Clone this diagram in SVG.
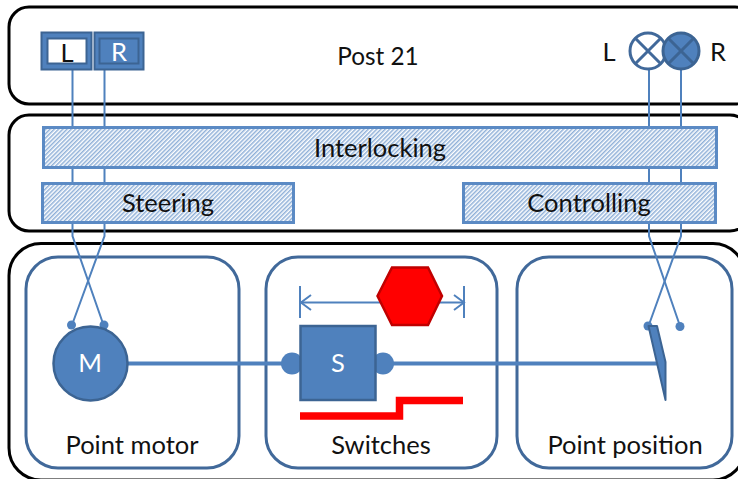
<svg xmlns="http://www.w3.org/2000/svg" width="738" height="479" viewBox="0 0 738 479">
<defs>
<pattern id="hatch" width="3" height="3" patternUnits="userSpaceOnUse" patternTransform="rotate(-45)">
<rect width="3" height="3" fill="#fff"/><rect width="3" height="1.500" fill="#8fb0d8"/>
</pattern>
</defs>
<style>
text{font-family:"Lato","Open Sans",sans-serif;font-size:25.500px;text-anchor:middle;fill:#111}
.w{fill:#fff}
.layer{fill:#fff;stroke:#000;stroke-width:3}
.box{fill:#fff;stroke:#41699a;stroke-width:3}
.hatch{fill:url(#hatch);stroke:#5b8ac4;stroke-width:3}
.wire{fill:none;stroke:#4f81bd;stroke-width:2}
.thick{fill:none;stroke:#4f81bd;stroke-width:4}
.solid{fill:#4f81bd;stroke:#3c6493;stroke-width:2.500}
.dot{fill:#4f81bd}
#title text{font-size:24.300px}
</style>
<g id="layer-post"><rect class="layer" x="9" y="7" width="746" height="97" rx="20"/></g>
<g id="layer-logic"><rect class="layer" x="9" y="115" width="741" height="116" rx="20"/></g>
<g id="layer-field"><rect class="layer" x="9" y="243.500" width="736" height="236.500" rx="32"/></g>
<g id="point-motor"><rect class="box" x="26" y="257" width="213" height="211" rx="32"/></g>
<g id="switches-box"><rect class="box" x="266" y="257" width="231" height="211" rx="32"/></g>
<g id="point-position-box"><rect class="box" x="517" y="257" width="215" height="211" rx="32"/></g>
<g id="connectors">
<path class="wire" d="M72.500 70V236L103.500 325"/>
<path class="wire" d="M104.500 70V236L72 325"/>
<path class="wire" d="M649 69V236L680 326"/>
<path class="wire" d="M681 69V236L648.500 326"/>
<path class="thick" d="M128 363.500H657"/>
<path class="wire" d="M300 302.500H464"/>
<path class="wire" d="M311 295L301 302.500L311 310M454 295L464 302.500L454 310"/>
<path class="wire" d="M300 286V318M464 286V318"/>
<circle class="dot" cx="71.500" cy="325" r="4.500"/>
<circle class="dot" cx="104" cy="325" r="4.500"/>
<circle class="dot" cx="648" cy="326" r="4.500"/>
<circle class="dot" cx="680" cy="326.500" r="4.500"/>
</g>
<g id="button-l"><rect x="41.500" y="32.500" width="50" height="37" fill="#4f81bd" stroke="#3c6493" stroke-width="2"/><rect x="47.500" y="38.500" width="39" height="25" fill="#fff" stroke="#3c6493" stroke-width="2"/><text x="67" y="62">L</text></g>
<g id="button-r"><rect x="94.500" y="32.500" width="49" height="37" fill="#4f81bd" stroke="#3c6493" stroke-width="2"/><rect x="99.500" y="38.500" width="39" height="25" fill="#4f81bd" stroke="#3c6493" stroke-width="2"/><text class="w" x="119" y="61">R</text></g>
<g id="title"><text x="378" y="65">Post 21</text></g>
<g id="lamp-l"><circle cx="648" cy="51" r="18" fill="#fff" stroke="#41699a" stroke-width="3"/><path d="M635.300 38.300L660.700 63.700M660.700 38.300L635.300 63.700" stroke="#41699a" stroke-width="3"/><text x="609" y="61">L</text></g>
<g id="lamp-r"><circle cx="681" cy="51" r="18" fill="#4f81bd" stroke="#3c6493" stroke-width="3"/><path d="M668.300 38.300L693.700 63.700M693.700 38.300L668.300 63.700" stroke="#3c6493" stroke-width="3"/><text x="718" y="61">R</text></g>
<g id="interlocking"><rect class="hatch" x="43.500" y="127.500" width="673" height="40"/><text x="380" y="157">Interlocking</text></g>
<g id="steering"><rect class="hatch" x="42.500" y="183.500" width="251" height="39"/><text x="168" y="212">Steering</text></g>
<g id="controlling"><rect class="hatch" x="463.500" y="183.500" width="252" height="39"/><text x="589" y="212">Controlling</text></g>
<g id="motor"><circle class="solid" cx="90.500" cy="363.500" r="37"/><text class="w" x="90" y="372">M</text></g>
<g id="switch"><circle class="dot" cx="292" cy="363.500" r="11"/><circle class="dot" cx="383" cy="363.500" r="11"/><rect class="solid" x="300.500" y="326" width="75" height="74"/><text class="w" x="338" y="372">S</text></g>
<g id="hexagon"><polygon points="377.500,296 392,267.500 428,267.500 442,296 428,325 392,325" fill="#f00" stroke="#c00000" stroke-width="2.500"/></g>
<path id="red-track" d="M300 416H399.500V400.500H463" fill="none" stroke="#f00" stroke-width="7.500"/>
<g id="blade"><polygon points="648.500,326 657,326 665.500,362 665.500,400" fill="#4f81bd" stroke="#3c6493" stroke-width="2" stroke-linejoin="round"/></g>
<g id="labels"><text x="132" y="454">Point motor</text><text x="381" y="454">Switches</text><text x="625" y="454">Point position</text></g>
</svg>
